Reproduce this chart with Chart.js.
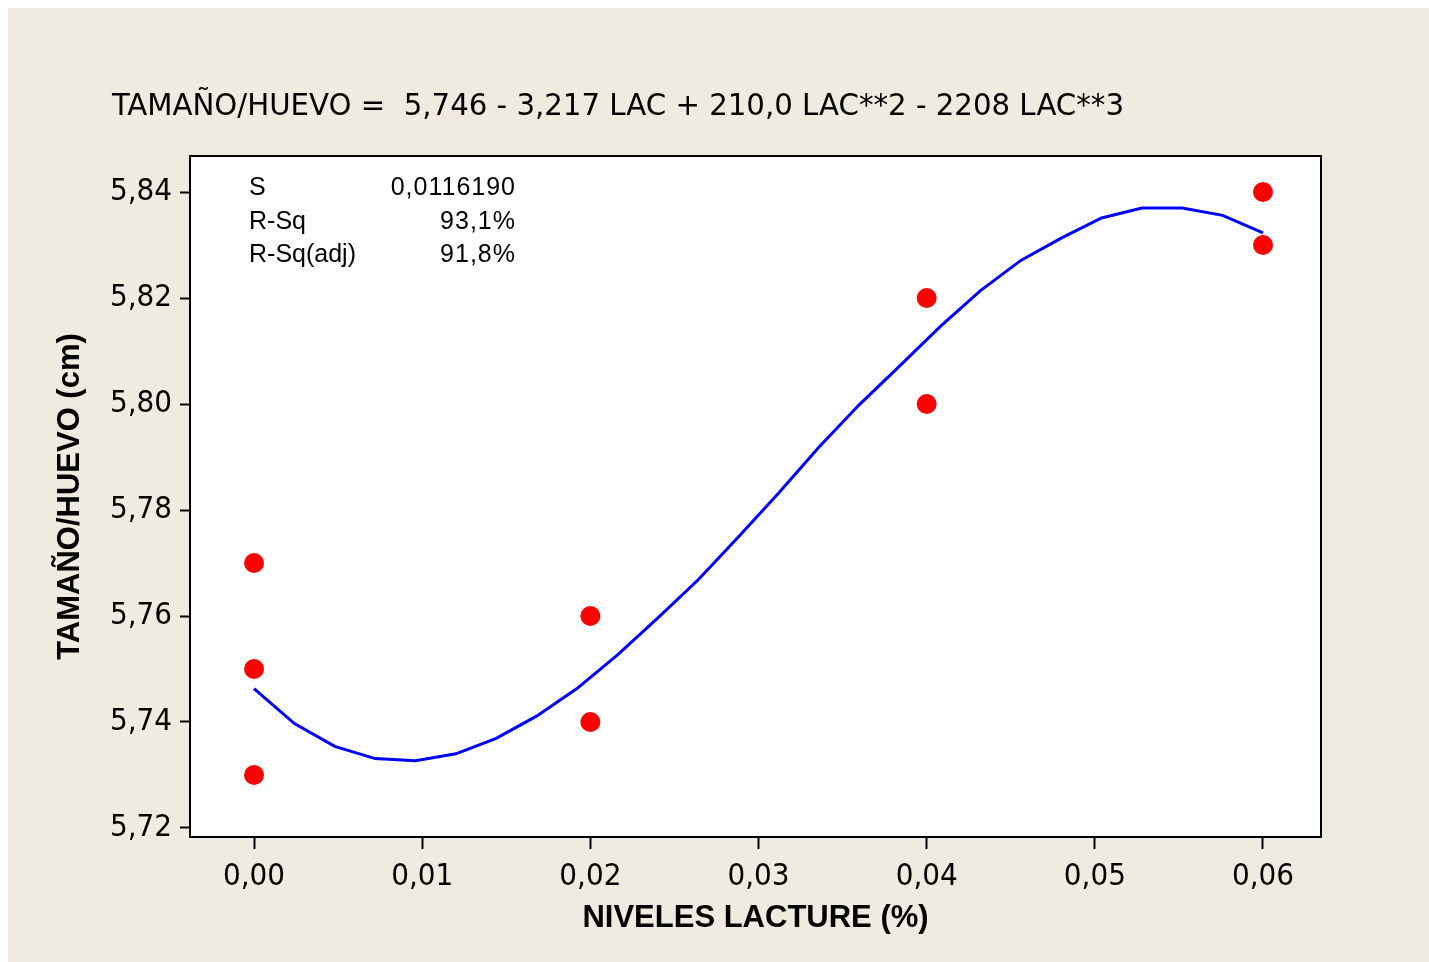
<!DOCTYPE html>
<html><head><meta charset="utf-8">
<script src="https://cdn.jsdelivr.net/npm/chart.js@4.4.1/dist/chart.umd.min.js"></script>
<style>
html,body{margin:0;padding:0;background:#fff;overflow:hidden;width:1429px;height:962px;}
#wrap{position:absolute;left:8px;top:8px;width:1421px;height:954px;background:#EFEBE1;}
#c{position:absolute;left:0;top:0;}
#title{position:absolute;left:104px;top:81px;font-family:"DejaVu Sans Condensed","DejaVu Sans",sans-serif;font-size:31px;line-height:31px;white-space:pre;transform-origin:0 0;color:#000;}
#stats{position:absolute;left:241px;top:162px;width:266px;font-family:"Liberation Sans",Arial,sans-serif;font-size:25px;line-height:33.5px;color:#000;}
#stats .r{display:flex;justify-content:space-between;height:33.5px;}
#stats .v{letter-spacing:1px;margin-right:-1px;}
</style>
</head><body>
<div id="wrap">
<canvas id="c" width="1421" height="954"></canvas>
<div id="title"><span id="tspan">TAMAÑO/HUEVO =  5,746 - 3,217 LAC + 210,0 LAC**2 - 2208 LAC**3</span></div>
<div id="stats">
<div class="r"><span>S</span><span class="v">0,0116190</span></div>
<div class="r"><span>R-Sq</span><span class="v">93,1%</span></div>
<div class="r"><span>R-Sq(adj)</span><span class="v">91,8%</span></div>
</div>
</div>
<script>
const xTicks=[0,0.01,0.02,0.03,0.04,0.05,0.06];
const yTicks=[5.72,5.74,5.76,5.78,5.80,5.82,5.84];
const obsX=[0,0,0,0.02,0.02,0.04,0.04,0.06,0.06];
const obsY=[5.77,5.75,5.73,5.76,5.74,5.82,5.80,5.84,5.83];
const fitX=[0,0.0024,0.0048,0.0072,0.0096,0.012,0.0144,0.0168,0.0192,0.0216,0.024,0.0264,0.0288,0.0312,0.0336,0.036,0.0384,0.0408,0.0432,0.0456,0.048,0.0504,0.0528,0.0552,0.0576,0.06];
const fitY=[5.7463,5.7397,5.7354,5.7331,5.7327,5.7340,5.7369,5.7411,5.7463,5.7526,5.7596,5.7668,5.7749,5.7832,5.7919,5.7999,5.8072,5.8146,5.8214,5.8271,5.8313,5.8351,5.8370,5.8370,5.8356,5.8323];

const tickFont={family:'"DejaVu Sans Condensed","DejaVu Sans",sans-serif',size:31};
const titleFont={family:'"Liberation Sans",Arial,sans-serif',size:31,weight:'bold'};
const fmt=v=>Number(v).toFixed(2).replace('.',',');

const frame={id:'frame',
 beforeDatasetsDraw(ch){const a=ch.chartArea,c=ch.ctx;c.save();c.fillStyle='#fff';c.fillRect(a.left,a.top,a.right-a.left,a.bottom-a.top);c.restore();},
 afterDraw(ch){const a=ch.chartArea,c=ch.ctx;c.save();c.strokeStyle='#000';c.lineWidth=2;c.strokeRect(a.left,a.top,a.right-a.left,a.bottom-a.top);c.restore();}
};

new Chart(document.getElementById('c'),{
 type:'scatter',
 data:{datasets:[
  {label:'obs',data:obsX.map((x,i)=>({x:x,y:obsY[i]})),backgroundColor:'#FF0000',borderWidth:0,pointRadius:10,pointHoverRadius:10},
  {label:'fit',data:fitX.map((x,i)=>({x:x,y:fitY[i]})),showLine:true,borderColor:'#0000FF',borderWidth:3,pointRadius:0,tension:0,fill:false}
 ]},
 options:{
  responsive:false,animation:false,devicePixelRatio:1,
  layout:{padding:{top:148,right:108,left:0,bottom:0}},
  plugins:{legend:{display:false},tooltip:{enabled:false},title:{display:false}},
  scales:{
   x:{type:'linear',position:'bottom',min:-0.00381,max:0.06345,
    afterBuildTicks:s=>{s.ticks=xTicks.map(v=>({value:v}));},
    afterFit:s=>{s.height=125;},
    ticks:{callback:fmt,font:tickFont,color:'#000',padding:9,maxRotation:0,autoSkip:false},
    grid:{drawOnChartArea:false,drawTicks:true,tickLength:12,tickWidth:2,tickColor:'#000'},
    border:{display:true,color:'#000',width:2},
    title:{display:true,text:'NIVELES LACTURE (%)',font:titleFont,color:'#000',padding:{top:0,bottom:25}}
   },
   y:{type:'linear',position:'left',min:5.7183,max:5.8468,
    afterBuildTicks:s=>{s.ticks=yTicks.map(v=>({value:v}));},
    afterFit:s=>{s.width=182;},
    ticks:{callback:fmt,font:tickFont,color:'#000',padding:8,autoSkip:false},
    grid:{drawOnChartArea:false,drawTicks:true,tickLength:10,tickWidth:2,tickColor:'#000'},
    border:{display:true,color:'#000',width:2},
    title:{display:true,text:'TAMAÑO/HUEVO (cm)',font:titleFont,color:'#000',padding:{top:44,bottom:0}}
   }
  }
 },
 plugins:[frame]
});

const sp=document.getElementById('tspan');
const w=sp.getBoundingClientRect().width;
document.getElementById('title').style.transform='scaleX('+(1012/w)+')';
</script>
</body></html>
